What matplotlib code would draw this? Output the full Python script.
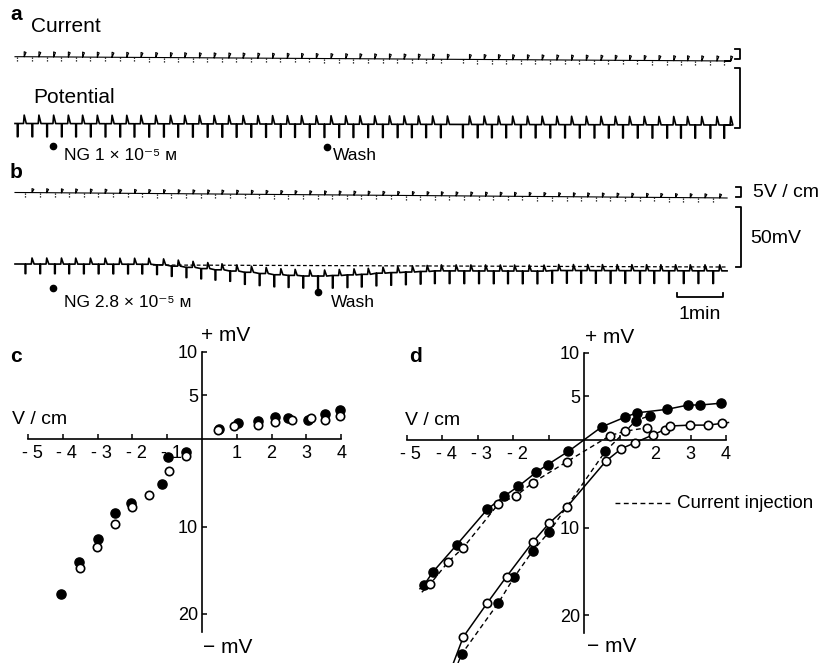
import matplotlib
matplotlib.use('Agg')
import numpy as np
import matplotlib.pyplot as plt
from matplotlib.transforms import ScaledTranslation

plt.rcParams['font.family'] = ['Liberation Sans', 'DejaVu Sans']

W, H = 822, 663

# ---------------- traces a and b ----------------
# times (min) of the stimulation pulses
pulse_a = [0.05, 0.37, 0.69, 1.01, 1.32, 1.64, 1.96, 2.28, 2.59, 2.91, 3.23, 3.54,
           3.86, 4.18, 4.50, 4.81, 5.13, 5.45, 5.77, 6.08, 6.40, 6.72, 7.04, 7.35,
           7.67, 7.99, 8.31, 8.62, 8.93, 9.25, 9.73, 10.05, 10.36, 10.67, 10.99,
           11.31, 11.63, 11.95, 12.27, 12.59, 12.90, 13.21, 13.53, 13.85, 14.17,
           14.47, 14.78, 15.11, 15.41]
pulse_b = [0.22, 0.54, 0.86, 1.17, 1.49, 1.81, 2.13, 2.45, 2.76, 3.08, 3.40, 3.72,
           4.04, 4.35, 4.67, 4.99, 5.31, 5.63, 5.94, 6.26, 6.58, 6.90, 7.22, 7.53,
           7.85, 8.17, 8.49, 8.81, 9.12, 9.44, 9.76, 10.08, 10.40, 10.71, 11.03,
           11.35, 11.67, 11.99, 12.30, 12.62, 12.94, 13.26, 13.58, 13.89, 14.21,
           14.53, 14.85, 15.17]
a_pot_up, a_pot_down = 7.0, 11.0      # mV
a_cur_up, a_cur_down = 2.5, 2.2       # V/cm
b_pot_up = 5.0
b_pot_down = [8.0] * 10 + [8.5] * 5 + [10.0] * 5 + [10.5] * 28
b_pot_shift = [0, 0, 0, 0, 0, 0, 0, 0, 0, -0.5, -1.5, -2.5, -3.5, -4.5, -5.5,
               -6.5, -7.5, -8.5, -9.0, -9.5, -9.5, -9.0, -8.5, -8.0, -7.0, -6.5,
               -6.0, -5.5, -5.0, -5.0, -5.0, -5.0, -5.0, -5.0, -5.0, -5.0,
               -4.5, -4.5, -4.5, -4.5, -4.5, -4.5, -4.5, -4.5, -4.5, -4.5, -4.5, -4.5]
b_cur_up, b_cur_down = 2.0, 2.0
ng_a, wash_a = 0.83, 6.78
ng_b, wash_b = 0.83, 6.59
scale_cur, scale_pot, scale_time = 5, 50, 1   # V/cm, mV, min

# ---------------- panel c ----------------
c_fill_x = [0.49, 1.04, 1.61, 2.10, 2.47, 3.06, 3.53, 3.96, -0.47, -0.99, -1.16,
            -2.04, -2.51, -2.99, -3.53, -4.04]
c_fill_y = [1.2, 1.8, 2.1, 2.5, 2.4, 2.2, 2.9, 3.3, -1.45, -2.1, -5.1, -7.3, -8.5,
            -11.4, -14.0, -17.7]
c_open_x = [0.45, 0.91, 1.61, 2.10, 2.58, 3.13, 3.53, 3.96, -0.47, -0.96, -1.51,
            -2.02, -2.51, -3.02, -3.51]
c_open_y = [1.0, 1.5, 1.65, 2.0, 2.2, 2.4, 2.2, 2.6, -1.9, -3.6, -6.4, -7.8, -9.7,
            -12.3, -14.7]

# ---------------- panel d ----------------
d_up_fill_x = [-4.51, -4.26, -3.59, -2.72, -2.24, -1.85, -1.35, -1.02, -0.44, 0.50,
               1.15, 1.48, 2.33, 2.94, 3.27, 3.85]
d_up_fill_y = [-16.6, -15.1, -12.0, -7.9, -6.4, -5.3, -3.7, -2.8, -1.3, 1.5, 2.6,
               3.1, 3.5, 4.0, 4.0, 4.2]
d_up_open_x = [-4.34, -3.82, -3.40, -2.41, -1.92, -1.45, -0.49, 0.73, 1.15, 1.77]
d_up_open_y = [-16.5, -13.9, -12.3, -7.3, -6.4, -4.9, -2.5, 0.5, 1.0, 1.4]
d_lo_open_x = [-3.40, -2.72, -2.18, -1.45, -0.98, -0.49, 0.62, 1.05, 1.44, 1.95,
               2.28, 2.42, 2.99, 3.50, 3.88]
d_lo_open_y = [-22.5, -18.6, -15.6, -11.7, -9.5, -7.7, -2.4, -1.0, -0.3, 0.6, 1.2,
               1.6, 1.7, 1.7, 1.9]
d_lo_fill_x = [-3.45, -2.41, -1.97, -1.45, -0.98, 0.60, 1.46, 1.86]
d_lo_fill_y = [-24.5, -18.6, -15.7, -12.7, -10.5, -1.3, 2.2, 2.8]
# where the drawn curves start / stop beyond the points
d_up_solid_ends = [(-4.62, -17.0), (3.97, 4.2)]
d_up_dash_ends = [(-4.57, -17.4), (1.77, 1.4)]
d_lo_solid_ends = [(-3.68, -25.5), (4.07, 2.0)]
d_lo_dash_ends = [(-3.55, -25.5), (1.86, 2.8)]

y_ticks = [10, 5, -10, -20]
y_ticklabels = ['10', '5', '10', '20']
x_ticks = [-5, -4, -3, -2, -1, 1, 2, 3, 4]
c_xticklabels = ['- 5', '- 4', '- 3', '- 2', '- 1', '1', '2', '3', '4']
d_xticklabels = ['- 5', '- 4', '- 3', '- 2', '', '', '2', '3', '4']

# ================= drawing =================
fig = plt.figure(figsize=(W / 100, H / 100), dpi=100)


def ftext(x, y, s, **kw):
    fig.text(x / W, 1 - y / H, s, **kw)


PX_PER_MIN = 46.0
MV_PX = 1.2
VCM_PX = 2.0
UP_DT = 0.15

ax_tr = fig.add_axes([0, 0, 1, 1])
ax_tr.set_xlim(-15 / PX_PER_MIN, (W - 15) / PX_PER_MIN)
ax_tr.set_ylim(H, 0)
ax_tr.axis('off')


def pot_trace(times, y_span, shift, up, down, t0, t1, lw=1.2):
    n = len(times)
    shift = np.broadcast_to(np.asarray(shift, float), n)
    up = np.broadcast_to(np.asarray(up, float), n)
    down = np.broadcast_to(np.asarray(down, float), n)
    ya, yb = y_span

    def base(t):
        return ya + (yb - ya) * (t - t0) / (t1 - t0)

    xs, ys = [t0], [base(t0) - shift[0] * MV_PX]
    for t, s, u, d in zip(times, shift, up, down):
        y = base(t) - s * MV_PX
        tu = t + UP_DT
        xs += [t, t, t + 0.015, t + 0.015, tu - 0.015, tu, tu + 0.045]
        ys += [y, y + d * MV_PX, y + d * MV_PX, y, y, y - u * MV_PX, y]
    xs.append(t1)
    ys.append(ys[-1])
    ax_tr.plot(xs, ys, color='k', lw=lw)


def cur_trace(times, y_span, up, down, t0, t1):
    ya, yb = y_span
    tt = np.asarray(times, float)
    yy = ya + (yb - ya) * (tt - t0) / (t1 - t0)
    xs, ys = [t0], [ya]
    for t, y in zip(tt, yy):
        tu = t + UP_DT
        xs += [tu, tu, tu + 0.04, tu]
        ys += [y, y - up * VCM_PX, y - up * VCM_PX + 0.8, y]
    xs.append(t1)
    ys.append(yb)
    ax_tr.plot(xs, ys, color='k', lw=0.8)
    ax_tr.vlines(tt, yy, yy + down * VCM_PX, color='k', lw=0.9,
                 linestyles=(0, (1, 1.2)))


def bracket(t, y_top, y_bot):
    ax_tr.plot([t - 0.11, t, t, t - 0.11], [y_top, y_top, y_bot, y_bot],
               color='k', lw=1.3)


# panel a
cur_trace(pulse_a, (56.7, 61.0), a_cur_up, a_cur_down, 0.0, 15.43)
pot_trace(pulse_a, (123.5, 125.0), 0.0, a_pot_up, a_pot_down, 0.0, 15.45)
t_br = (740 - 15) / PX_PER_MIN
bracket(t_br, 49, 49 + scale_cur * VCM_PX)
bracket(t_br, 68, 68 + scale_pot * MV_PX)
ax_tr.plot([ng_a, wash_a], [145.5, 146.5], 'o', color='k', ms=4.5)

# panel b
cur_trace(pulse_b, (192.5, 198.0), b_cur_up, b_cur_down, 0.0, 15.48)
pot_trace(pulse_b, (264.0, 265.5), b_pot_shift, b_pot_up, b_pot_down, 0.0, 15.48)
ax_tr.plot([3.0, 15.48], [265.0, 267.0], color='k', lw=0.9, dashes=(3, 2))
t_br = (741 - 15) / PX_PER_MIN
bracket(t_br, 187, 187 + scale_cur * VCM_PX)
bracket(t_br, 207, 207 + scale_pot * MV_PX)
ax_tr.plot([ng_b, wash_b], [287.5, 291.5], 'o', color='k', ms=4.5)
t_bar = 14.39
ax_tr.plot([t_bar, t_bar, t_bar + scale_time, t_bar + scale_time],
           [292.5, 296.7, 296.7, 292.5], color='k', lw=1.3)

# texts of a and b
ftext(10, 20, 'a', fontsize=15, fontweight='bold', va='baseline')
ftext(31, 31.5, 'Current', fontsize=15, va='baseline')
ftext(33, 103, 'Potential', fontsize=15, va='baseline')
ftext(64, 160, 'NG 1 × 10⁻⁵ ᴍ', fontsize=12.5, va='baseline')
ftext(333, 160, 'Wash', fontsize=12.5, va='baseline')
ftext(10, 178, 'b', fontsize=15, fontweight='bold', va='baseline')
ftext(64, 307, 'NG 2.8 × 10⁻⁵ ᴍ', fontsize=12.5, va='baseline')
ftext(331, 307, 'Wash', fontsize=12.5, va='baseline')
ftext(753, 197, '5V / cm', fontsize=14, va='baseline')
ftext(750, 243, '50mV', fontsize=14, va='baseline')
ftext(700, 319, '1min', fontsize=14, va='baseline', ha='center')


# ---------------- c and d axes ----------------
def iv_axes(box, x0, y0, sx, sy, xlabels):
    l, t, r, b = box
    ax = fig.add_axes([l / W, 1 - b / H, (r - l) / W, (b - t) / H])
    ax.set_xlim((l - x0) / sx, (r - x0) / sx)
    ax.set_ylim((y0 - b) / sy, (y0 - t) / sy)
    ax.patch.set_alpha(0)
    for s in ['top', 'right']:
        ax.spines[s].set_visible(False)
    ax.spines['left'].set_position(('data', 0))
    ax.spines['bottom'].set_position(('data', 0))
    ax.spines['left'].set_bounds(-22, 10)
    ax.spines['bottom'].set_bounds(-5, 4)
    for s in ['left', 'bottom']:
        ax.spines[s].set_linewidth(1.2)
    ax.set_xticks(x_ticks)
    ax.set_xticklabels(xlabels)
    ax.set_yticks(y_ticks)
    ax.set_yticklabels(y_ticklabels)
    ax.tick_params(direction='in', length=3.5, width=1.1, labelsize=13)
    ax.tick_params(axis='x', pad=4)
    ax.tick_params(axis='y', pad=3)
    off = ScaledTranslation(4 / 100, 0, fig.dpi_scale_trans)
    for lab in ax.get_xticklabels():
        if lab.get_text().startswith('-'):
            lab.set_transform(lab.get_transform() + off)
    return ax


MS = 6.6
ax_c = iv_axes((10, 340, 360, 660), 202, 439, 34.8, 8.75, c_xticklabels)
ax_c.plot(c_fill_x, c_fill_y, 'o', color='k', ms=MS, zorder=3)
ax_c.plot(c_open_x, c_open_y, 'o', mfc='white', mec='k', mew=1.2, ms=MS - 0.6,
          zorder=4)

ax_d = iv_axes((400, 340, 760, 660), 584, 440, 35.5, 8.75, d_xticklabels)


def curve(xs, ys, ends, **kw):
    (xa, ya), (xb, yb) = ends
    ax_d.plot([xa] + list(xs) + [xb], [ya] + list(ys) + [yb], color='k',
              clip_on=False, zorder=2, **kw)


curve(d_up_fill_x, d_up_fill_y, d_up_solid_ends, lw=1.1)
curve(d_up_open_x, d_up_open_y, d_up_dash_ends, lw=1.0, dashes=(3.5, 2.5))
curve(d_lo_open_x, d_lo_open_y, d_lo_solid_ends, lw=1.1)
curve(d_lo_fill_x, d_lo_fill_y, d_lo_dash_ends, lw=1.0, dashes=(3.5, 2.5))
ax_d.plot(d_up_fill_x + d_lo_fill_x, d_up_fill_y + d_lo_fill_y, 'o', color='k',
          ms=MS, zorder=3)
ax_d.plot(d_up_open_x + d_lo_open_x, d_up_open_y + d_lo_open_y, 'o', mfc='white',
          mec='k', mew=1.2, ms=MS - 0.6, zorder=4)

# texts of c and d
ftext(10, 362, 'c', fontsize=15, fontweight='bold', va='baseline')
ftext(12, 424, 'V / cm', fontsize=14, va='baseline')
ftext(201, 341.5, '+ mV', fontsize=15, va='baseline')
ftext(203, 653, '− mV', fontsize=15, va='baseline')
ftext(409, 362, 'd', fontsize=15, fontweight='bold', va='baseline')
ftext(405, 425, 'V / cm', fontsize=14, va='baseline')
ftext(585, 343, '+ mV', fontsize=15, va='baseline')
ftext(587, 652, '− mV', fontsize=15, va='baseline')
fig.add_artist(plt.Line2D([615 / W, 670 / W], [1 - 502.7 / H, 1 - 502.7 / H],
                          color='k', lw=1.0, dashes=(3.5, 2.5)))
ftext(677, 508.5, 'Current injection', fontsize=13.5, va='baseline')

fig.savefig('out.png', dpi=100)
